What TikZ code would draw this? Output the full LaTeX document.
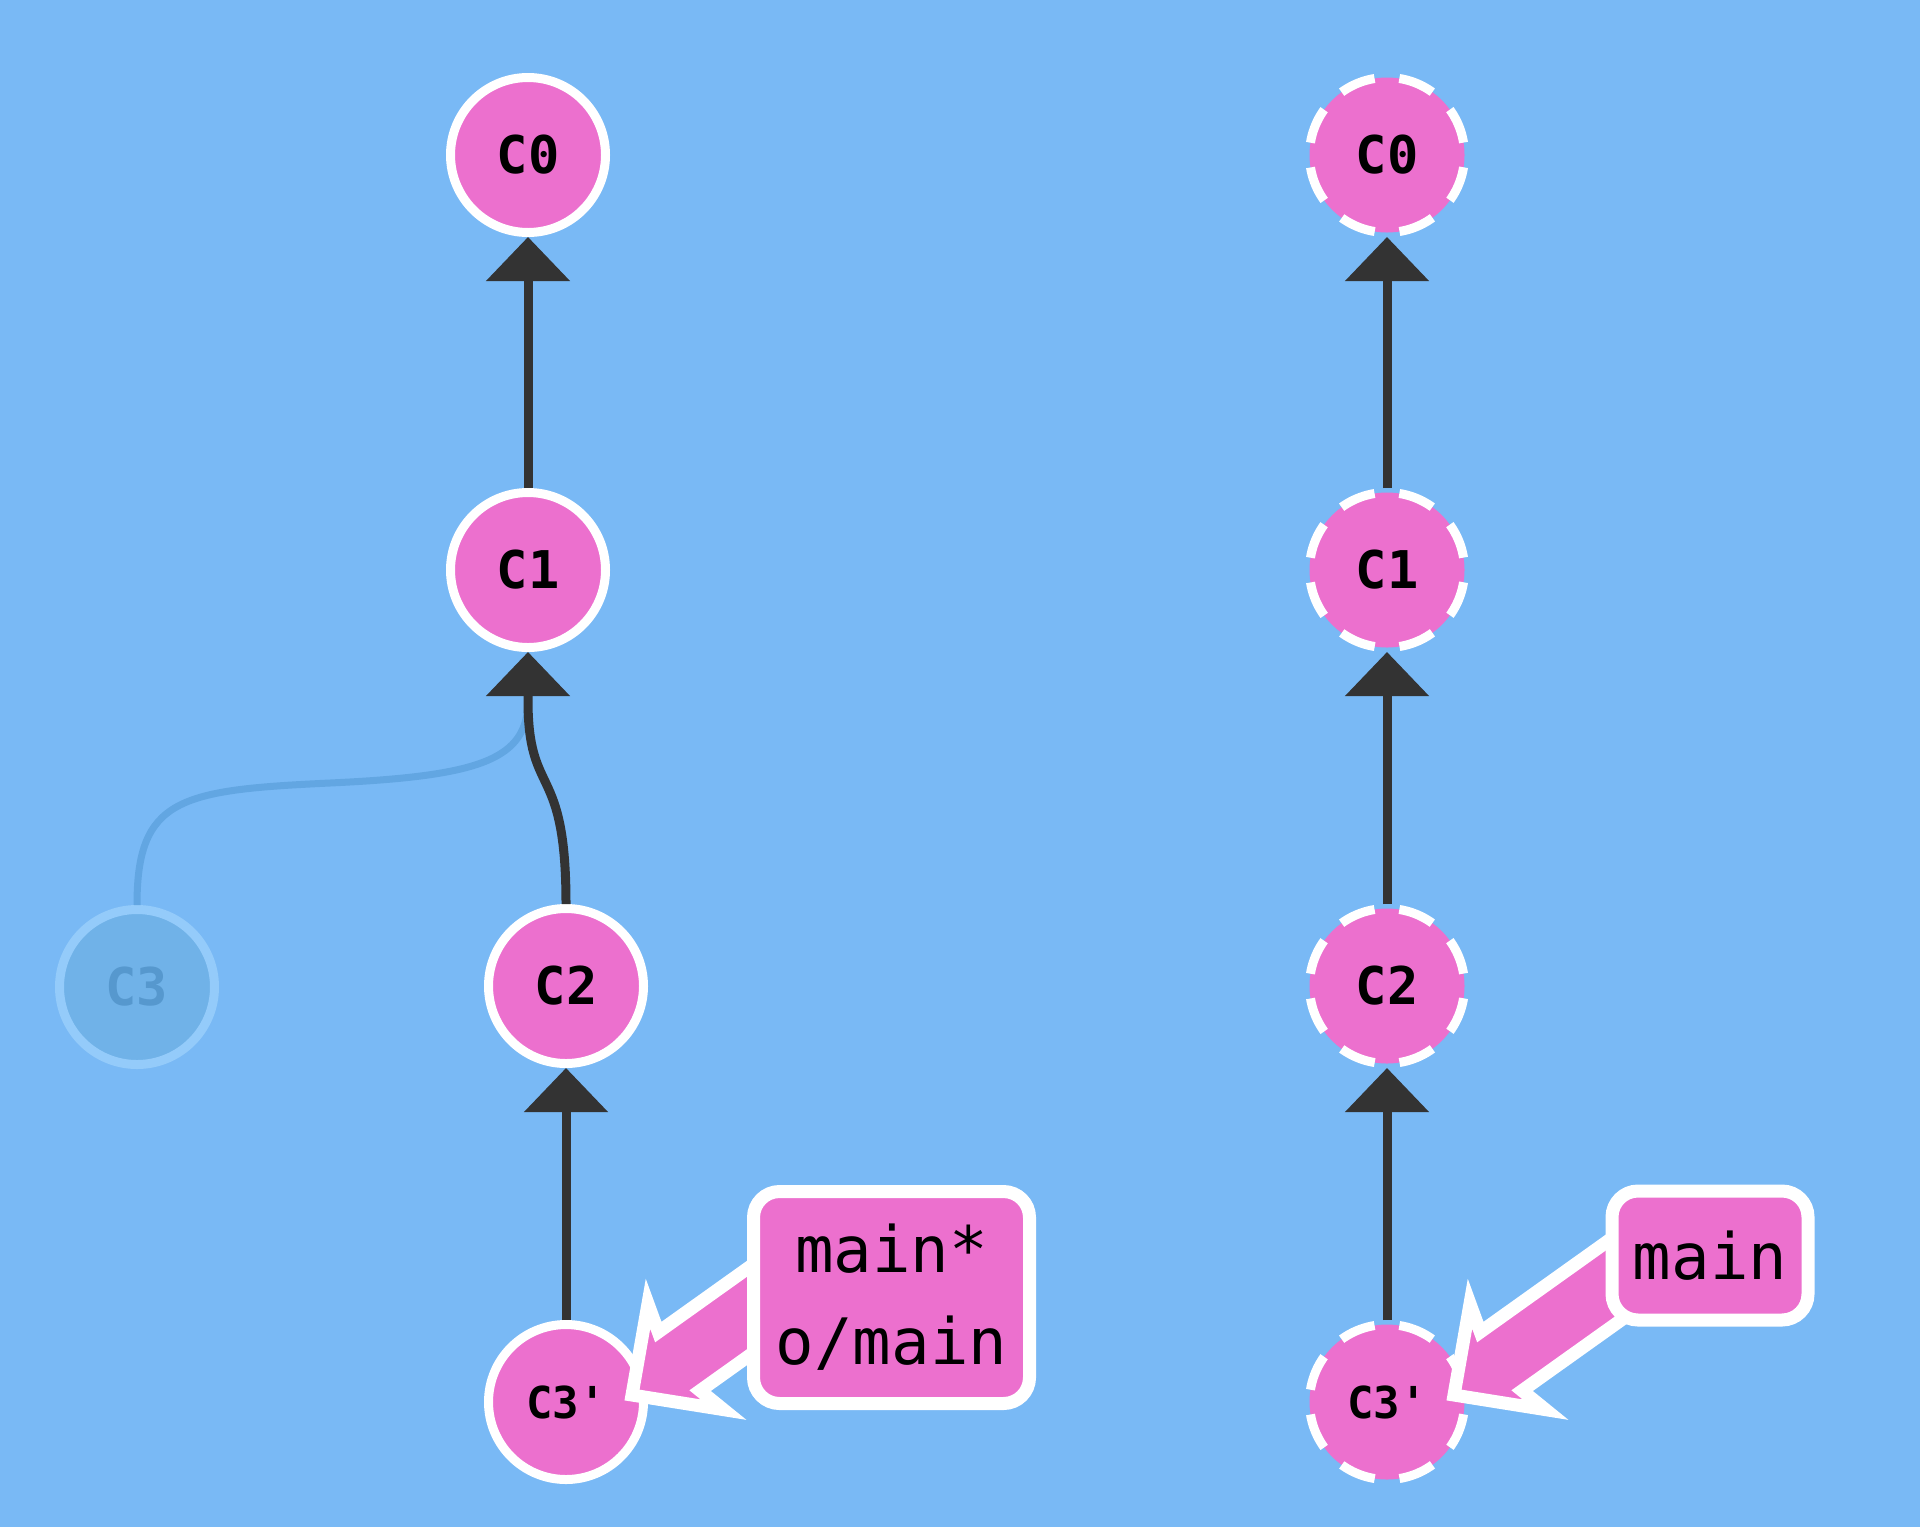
\documentclass[tikz,border=0pt]{standalone}
\usepackage{fontspec}
\newfontfamily\gitmono[Ligatures=TeXOff]{DejaVu Sans Mono}
\usetikzlibrary{arrows.meta,calc}
\definecolor{bgblue}{RGB}{121,185,245}
\definecolor{cpink}{RGB}{236,112,206}
\definecolor{cdark}{RGB}{51,51,51}
\definecolor{fadefill}{RGB}{112,178,232}
\definecolor{fadedraw}{RGB}{148,203,250}
\definecolor{fadetext}{RGB}{86,152,206}
\definecolor{fadeline}{RGB}{98,166,226}
\begin{document}
\begin{tikzpicture}[x=0.5pt,y=-0.5pt,
  commit/.style={circle, fill=cpink, draw=white, line width=4.5pt, minimum size=77.5pt,
    inner sep=0pt, text=black, font=\gitmono\bfseries\fontsize{26}{26}\selectfont},
  smallcommit/.style={font=\gitmono\bfseries\fontsize{22}{22}\selectfont},
  dcommit/.style={commit, dash pattern=on 18pt off 12.44pt, dash phase=24.2pt},
  fadecommit/.style={commit, fill=fadefill, draw=fadedraw, text=fadetext},
  conn/.style={draw=cdark, line width=4.5pt, line join=round, -{Triangle[width=41pt,length=22pt]}},
  fadeconn/.style={draw=fadeline, line width=3.5pt},
  branch/.style={rectangle, rounded corners=13pt, fill=cpink, draw=white, line width=6.5pt,
    inner sep=0pt, align=center, text=black, font=\gitmono\fontsize{32}{46}\selectfont},
  pointer/.style={fill=cpink, draw=white, line width=6.5pt, line join=miter}
]
\fill[bgblue] (0,0) rectangle (1920,1527);
\useasboundingbox (0,0) rectangle (1920,1527);

% faded old commit
\node[fadecommit] (L3) at (137,987) {C3};

% left repo
\node[commit] (L0) at (528,155) {C0};
\node[commit] (L1) at (528,570) {C1};
\node[commit] (L2) at (566,986) {C2};
\node[commit, smallcommit] (L3p) at (566,1402) {C3'};

\draw[fadeconn] (L3.north) .. controls ($(L3.north)+(0,-107)$) and (180,790) .. (330,783)
  .. controls (480,776) and ($(L1.south)+(0,108)$) .. ($(L1.south)+(0,48)$);

\draw[conn] (L1) -- (L0);
\draw[conn] (L2.north) .. controls ($(L2.north)+(0,-144)$) and ($(L1.south)+(0,148)$)
  .. ($(L1.south)+(0,48)$) -- (L1.south);
\draw[conn] (L3p) -- (L2);

% right repo
\node[dcommit] (R0) at (1387,155) {C0};
\node[dcommit] (R1) at (1387,570) {C1};
\node[dcommit] (R2) at (1387,986) {C2};
\node[dcommit, smallcommit] (R3p) at (1387,1402) {C3'};
\draw[conn] (R1) -- (R0);
\draw[conn] (R2) -- (R1);
\draw[conn] (R3p) -- (R2);

% branch pointers
\begin{scope}[shift={($(L3p.center)+(66,-7)$)}, rotate=35.5]
  \draw[pointer] (0,0) -- (66,-65) -- (58,-36) -- (250,-36) -- (250,36) -- (58,36) -- (66,65) -- cycle;
\end{scope}
\begin{scope}[shift={($(R3p.center)+(67,-7)$)}, rotate=35.5]
  \draw[pointer] (0,0) -- (66,-65) -- (58,-36) -- (250,-36) -- (250,36) -- (58,36) -- (66,65) -- cycle;
\end{scope}

\node[branch, minimum width=138pt, minimum height=106pt] (BL) at (891.5,1297.5) {main*\\o/main};
\node[branch, minimum width=98pt, minimum height=64.5pt] (BR) at (1710,1255.5) {main};
\end{tikzpicture}
\end{document}
